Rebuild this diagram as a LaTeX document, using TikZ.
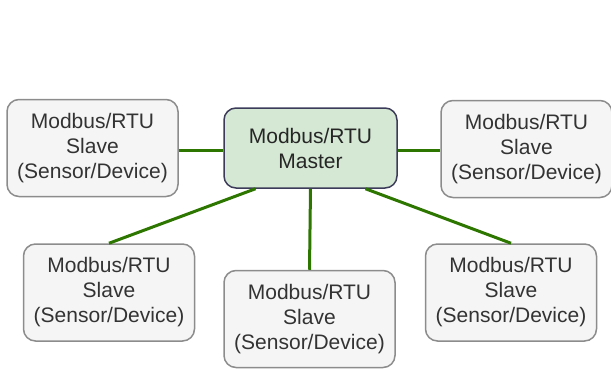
\documentclass[tikz,border=0pt]{standalone}
\usepackage{fontspec}
\setmainfont{Liberation Sans}
\usetikzlibrary{calc}
\definecolor{slavefill}{HTML}{F5F5F5}
\definecolor{slaveline}{HTML}{8C8C8C}
\definecolor{masterfill}{HTML}{D5E8D4}
\definecolor{masterline}{HTML}{3C3C5A}
\definecolor{linkgreen}{HTML}{2D7600}
\tikzset{
    slave/.style={draw=slaveline, fill=slavefill, line width=1.5pt, rounded corners=12pt,
        minimum width=171pt, minimum height=97pt, align=center, text=black!80,
        font=\fontsize{21}{25}\selectfont, inner sep=0pt},
    master/.style={draw=masterline, fill=masterfill, line width=1.5pt, rounded corners=12pt,
        minimum width=173pt, minimum height=80pt, align=center, text=black!85,
        font=\fontsize{21}{25}\selectfont, inner sep=0pt},
    link/.style={draw=linkgreen, line width=3pt}
}
\begin{document}
\begin{tikzpicture}[x=1pt, y=-1pt]
    \useasboundingbox (0,0) rectangle (611,368);
    \node[master] (mst) at (310.5,148) {Modbus/RTU\\Master};
    \node[slave] (sl1) at (92.5,148) {Modbus/RTU\\Slave\\(Sensor/Device)};
    \node[slave] (sl2) at (526.5,149) {Modbus/RTU\\Slave\\(Sensor/Device)};
    \node[slave] (sl3) at (109,292.5) {Modbus/RTU\\Slave\\(Sensor/Device)};
    \node[slave] (sl4) at (309.5,319) {Modbus/RTU\\Slave\\(Sensor/Device)};
    \node[slave] (sl5) at (511,292.5) {Modbus/RTU\\Slave\\(Sensor/Device)};
    \path[link] (sl1.east |- 0,150) -- (mst.west |- 0,150);
    \path[link] (mst.east |- 0,150) -- (sl2.west |- 0,150);
    \path[link] ($(mst.south)+(-55,0)$) -- (sl3.north);
    \path[link] (mst.south) -- (sl4.north);
    \path[link] ($(mst.south)+(55,0)$) -- (sl5.north);
\end{tikzpicture}
\end{document}
